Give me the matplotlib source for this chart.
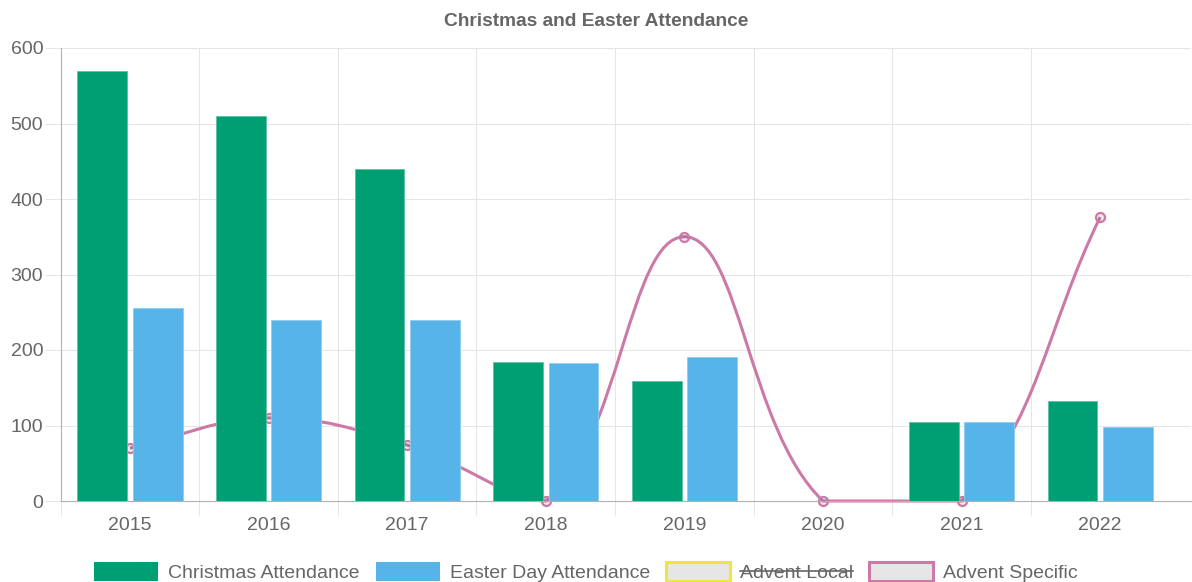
import matplotlib
matplotlib.use('Agg')
import matplotlib.pyplot as plt
import numpy as np
from matplotlib.path import Path
from matplotlib.patches import PathPatch, Rectangle
from matplotlib.lines import Line2D

plt.rcParams['font.family'] = ['Liberation Sans', 'DejaVu Sans']

# ---------------- data ----------------
years = ['2015', '2016', '2017', '2018', '2019', '2020', '2021', '2022']
christmas = [570, 510, 440, 184, 159, 0, 105, 133]
easter = [255, 240, 240, 183, 191, 0, 105, 98]
advent_specific = [70, 110, 74, 0, 350, 0, 0, 376]
series_names = ['Christmas Attendance', 'Easter Day Attendance', 'Advent Local', 'Advent Specific']
hidden_series = ['Advent Local']
y_ticks = [0, 100, 200, 300, 400, 500, 600]
title = 'Christmas and Easter Attendance'

# ---------------- style ----------------
GREEN = '#009E73'
BLUE = '#56B4E9'
YELLOW = '#F0E442'
PINK = '#CC79A7'
TXT = '#666666'
GRID = '#e5e5e5'
AXIS = '#b0b0b0'

W, H = 1192, 582
fig = plt.figure(figsize=(W / 100, H / 100), dpi=100)
left_px, right_px, top_px, bottom_px = 60.7, 1191, 48, 501
cat_px = 138.6
ax = fig.add_axes([left_px / W, (H - bottom_px) / H, (right_px - left_px) / W, (bottom_px - top_px) / H])
ax.set_xlim(-0.5, -0.5 + (right_px - left_px) / cat_px)
ax.set_ylim(0, 600)

x = np.arange(len(years))

# grid / ticks
ax.set_yticks(y_ticks)
ax.set_yticklabels([str(v) for v in y_ticks])
ax.tick_params(axis='y', length=11.5, width=0.72, color=GRID, pad=1, labelsize=14, labelcolor=TXT)
ax.set_xticks(x - 0.5)
ax.set_xticklabels([])
ax.set_xticks(x, minor=True)
ax.set_xticklabels(years, minor=True)
ax.tick_params(axis='x', which='major', length=10, width=0.72, color=GRID, labelbottom=False)
ax.tick_params(axis='x', which='minor', length=0, pad=11.5, labelsize=14, labelcolor=TXT)
ax.grid(True, which='major', color=GRID, linewidth=0.72, zorder=0)
ax.set_axisbelow(True)
for s in ['top', 'right']:
    ax.spines[s].set_visible(False)
for s in ['left', 'bottom']:
    ax.spines[s].set_color(AXIS)
    ax.spines[s].set_linewidth(0.8)

# bars
bw = 0.36
ax.bar(x - 0.2, christmas, bw, color=GREEN, edgecolor='#5cc2a5', linewidth=0.6, zorder=3)
ax.bar(x + 0.2, easter, bw, color=BLUE, edgecolor='#8fcdf0', linewidth=0.6, zorder=3)

# smooth line (Chart.js style spline, tension 0.4, control points capped to chart area)
pts = ax.transData.transform(np.column_stack([x, advent_specific]).astype(float))
bb = ax.bbox
tension = 0.4
n = len(pts)
cp_prev = np.zeros_like(pts)
cp_next = np.zeros_like(pts)
for i in range(n):
    prev = pts[i - 1] if i > 0 else pts[i]
    cur = pts[i]
    nxt = pts[i + 1] if i < n - 1 else pts[i]
    d01 = np.hypot(*(cur - prev))
    d12 = np.hypot(*(nxt - cur))
    tot = d01 + d12
    s01 = d01 / tot if tot else 0
    s12 = d12 / tot if tot else 0
    fa = tension * s01
    fb = tension * s12
    cp_prev[i] = cur - fa * (nxt - prev)
    cp_next[i] = cur + fb * (nxt - prev)
for arr in (cp_prev, cp_next):
    arr[:, 0] = np.clip(arr[:, 0], bb.x0, bb.x1)
    arr[:, 1] = np.clip(arr[:, 1], bb.y0, bb.y1)
verts = [pts[0]]
codes = [Path.MOVETO]
for i in range(n - 1):
    verts += [cp_next[i], cp_prev[i + 1], pts[i + 1]]
    codes += [Path.CURVE4] * 3
inv = ax.transData.inverted()
verts_data = inv.transform(np.array(verts))
ax.add_patch(PathPatch(Path(verts_data, codes), facecolor='none', edgecolor=PINK,
                       linewidth=2.2, zorder=2, clip_on=False))
ax.plot(x, advent_specific, linestyle='none', marker='o', ms=6.5,
        mfc=(0, 0, 0, 0.08), mec=PINK, mew=1.6, zorder=2.5, clip_on=False)

# title
fig.text(0.5, (H - 26.5) / H, title, ha='center', va='baseline', fontsize=13.8,
         fontweight='bold', color=TXT)

# legend (manual, Chart.js-like)
renderer = fig.canvas.get_renderer()
box_w, box_h, gap, pad = 64, 19, 10, 16
styles = [
    dict(fc=GREEN, ec=GREEN, lw=0),
    dict(fc=BLUE, ec=BLUE, lw=0),
    dict(fc='#e6e6e6', ec=YELLOW, lw=2.2),
    dict(fc='#e6e6e6', ec=PINK, lw=2.2),
]
texts = []
widths = []
for name in series_names:
    t = fig.text(0, 0, name, fontsize=14, color=TXT, ha='left', va='baseline')
    texts.append(t)
    widths.append(t.get_window_extent(renderer).width)
total = sum(box_w + gap + w + pad for w in widths)
cx = (W - total) / 2 - 2
box_top = 562
baseline = 578
for name, t, w, st in zip(series_names, texts, widths, styles):
    fig.patches.append(Rectangle((cx / W, (H - box_top - box_h) / H), box_w / W, box_h / H,
                                 transform=fig.transFigure, facecolor=st['fc'],
                                 edgecolor=st['ec'], linewidth=st['lw'], figure=fig))
    tx = cx + box_w + gap
    t.set_position((tx / W, (H - baseline) / H))
    if name in hidden_series:
        ys = (H - 571) / H
        fig.lines.append(Line2D([tx / W, (tx + w) / W], [ys, ys], transform=fig.transFigure,
                                color=TXT, linewidth=1.2, figure=fig))
    cx += box_w + gap + w + pad

fig.savefig('out.png', dpi=100)
